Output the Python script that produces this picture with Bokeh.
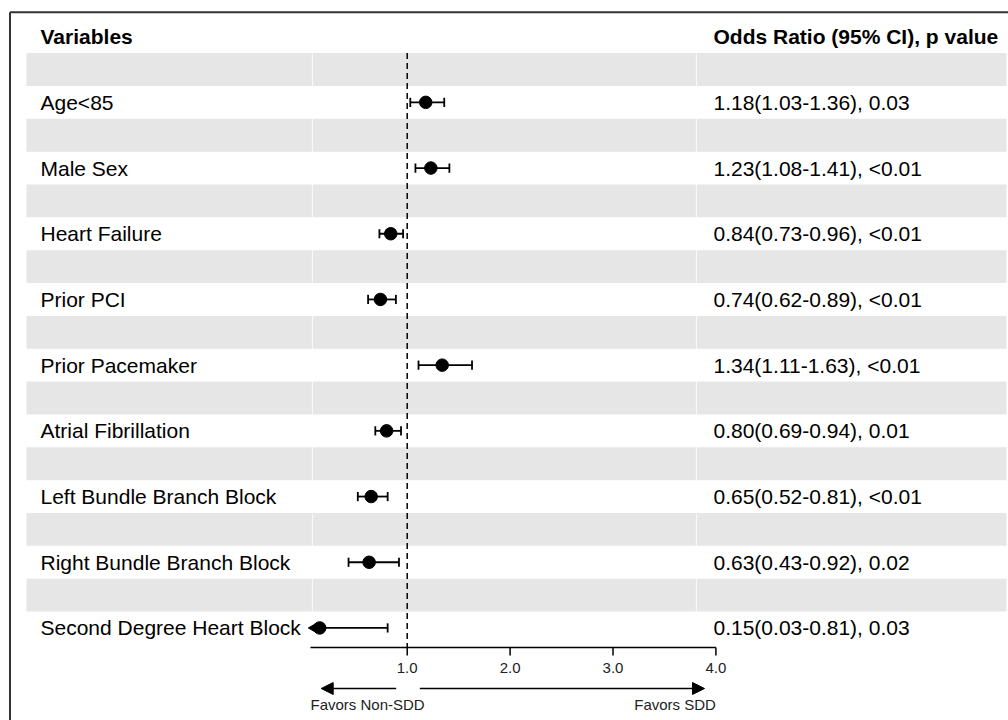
import math
from bokeh.plotting import figure
from bokeh.models import Range1d, Arrow, NormalHead
from bokeh.embed import file_html
from bokeh.resources import INLINE
from bokeh.core.properties import value

# ---------------- data ----------------
variables = ["Age<85", "Male Sex", "Heart Failure", "Prior PCI", "Prior Pacemaker",
             "Atrial Fibrillation", "Left Bundle Branch Block",
             "Right Bundle Branch Block", "Second Degree Heart Block"]
odds_ratio = [1.18, 1.23, 0.84, 0.74, 1.34, 0.80, 0.65, 0.63, 0.15]
ci_lower = [1.03, 1.08, 0.73, 0.62, 1.11, 0.69, 0.52, 0.43, 0.03]
ci_upper = [1.36, 1.41, 0.96, 0.89, 1.63, 0.94, 0.81, 0.92, 0.81]
p_values = ["0.03", "<0.01", "<0.01", "<0.01", "<0.01", "0.01", "<0.01", "0.02", "0.03"]
tick_values = [1, 2, 3, 4]
tick_labels = ["1.0", "2.0", "3.0", "4.0"]
x_limits = (0.06, 4.0)
ref_value = 1.0
header_left = "Variables"
header_right = "Odds Ratio (95% CI), p value"
favor_left = "Favors Non-SDD"
favor_right = "Favors SDD"

# ---------------- layout helpers ----------------
W, H = 1008, 720
AXIS_PX = 647
PX_PER_UNIT = 102.9
REF_PX = 406.7
ROW_H = 32.85
ROW1_PX = 69.0
FONT = value("Liberation Sans")


def px2x(px):
    return 1 + (px - REF_PX) / PX_PER_UNIT


def px2row(py):
    return 1 + (py - ROW1_PX) / ROW_H


n = len(variables)
data_rows = [2 * (i + 1) for i in range(n)]
band_rows = [2 * i + 1 for i in range(n)]
or_texts = [f"{o:.2f}({l:.2f}-{u:.2f}), {pv}" for o, l, u, pv in
            zip(odds_ratio, ci_lower, ci_upper, p_values)]

p = figure(width=W, height=H, output_backend="svg", toolbar_location=None,
           x_range=Range1d(px2x(0), px2x(W)),
           y_range=Range1d(px2row(H), px2row(0)),
           min_border=0, x_axis_location=None, y_axis_location=None)
p.grid.visible = False
p.outline_line_color = None
p.background_fill_color = "white"
p.border_fill_color = "white"

# shaded bands (three table columns)
col_spans = [(26, 311.4), (312.2, 695.4), (696.2, 1006)]
for a, b in col_spans:
    p.quad(left=[px2x(a)] * n, right=[px2x(b)] * n,
           top=[r - 0.5 for r in band_rows], bottom=[r + 0.5 for r in band_rows],
           fill_color="#e6e6e6", line_color=None)

# outer border (left and top edges visible)
bx, by = px2x(9.5), px2row(11.7)
p.segment(x0=[bx, bx], y0=[by, by], x1=[px2x(1030), bx], y1=[by, px2row(760)],
          line_color="#333333", line_width=2)

# reference line
axis_y = px2row(AXIS_PX)
p.segment(x0=[ref_value], x1=[ref_value], y0=[0.5], y1=[axis_y],
          line_color="black", line_width=1.5, line_dash="6 4")

# CI lines, clipped to x limits
lo_clip = [max(l, x_limits[0]) for l in ci_lower]
hi_clip = [min(u, x_limits[1]) for u in ci_upper]
p.segment(x0=lo_clip, x1=hi_clip, y0=data_rows, y1=data_rows,
          line_color="black", line_width=1.8)
cap = 0.14
cap_lo = [(l, r) for l, r in zip(ci_lower, data_rows) if l >= x_limits[0]]
cap_hi = [(u, r) for u, r in zip(ci_upper, data_rows) if u <= x_limits[1]]
for caps in (cap_lo, cap_hi):
    p.segment(x0=[c[0] for c in caps], x1=[c[0] for c in caps],
              y0=[c[1] - cap for c in caps], y1=[c[1] + cap for c in caps],
              line_color="black", line_width=1.8)
arr_lo = [r for l, r in zip(ci_lower, data_rows) if l < x_limits[0]]
if arr_lo:
    p.scatter(x=[x_limits[0] + 0.035] * len(arr_lo), y=arr_lo, marker="triangle",
              size=10, angle=math.pi / 2, color="black")

# point estimates
p.scatter(x=odds_ratio, y=data_rows, size=12.5, color="black")

# table text
p.text(x=[px2x(40)] * n, y=data_rows, text=variables, text_font=FONT,
       text_font_size="21px", text_baseline="middle", text_align="left",
       text_color="black")
p.text(x=[px2x(713)] * n, y=data_rows, text=or_texts, text_font=FONT,
       text_font_size="21px", text_baseline="middle", text_align="left",
       text_color="black")
p.text(x=[px2x(40), px2x(713)], y=[0, 0], text=[header_left, header_right],
       text_font=FONT, text_font_size="21px", text_font_style="bold",
       text_baseline="middle", text_align="left", text_color="black")

# x axis (rule, ticks, labels) on the OR scale
p.segment(x0=[x_limits[0]], x1=[x_limits[1]], y0=[axis_y], y1=[axis_y],
          line_color="black", line_width=1.5)
p.segment(x0=tick_values, x1=tick_values, y0=[axis_y] * len(tick_values),
          y1=[px2row(AXIS_PX + 8)] * len(tick_values),
          line_color="black", line_width=1.5)
p.text(x=tick_values, y=[px2row(667)] * len(tick_values), text=tick_labels,
       text_font=FONT, text_font_size="15px", text_align="center",
       text_baseline="middle", text_color="#222222")

# favour arrows and labels
arrow_y = px2row(688)
p.add_layout(Arrow(end=NormalHead(size=12, fill_color="black", line_color="black"),
                   x_start=px2x(395.7), y_start=arrow_y, x_end=px2x(320.7), y_end=arrow_y,
                   line_color="black", line_width=1.5))
p.add_layout(Arrow(end=NormalHead(size=12, fill_color="black", line_color="black"),
                   x_start=px2x(419.3), y_start=arrow_y, x_end=px2x(704), y_end=arrow_y,
                   line_color="black", line_width=1.5))
lab_y = px2row(704)
p.text(x=[x_limits[0]], y=[lab_y], text=[favor_left], text_align="left",
       text_baseline="middle", text_font=FONT, text_font_size="15px",
       text_color="#222222")
p.text(x=[x_limits[1]], y=[lab_y], text=[favor_right], text_align="right",
       text_baseline="middle", text_font=FONT, text_font_size="15px",
       text_color="#222222")

open("out.html", "w").write(file_html(p, INLINE))
